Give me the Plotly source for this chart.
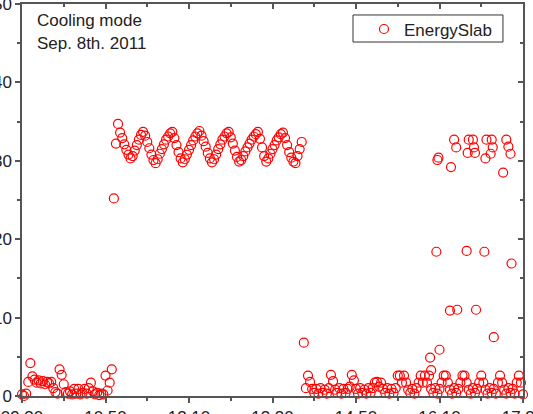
import pandas as pd
import plotly.graph_objects as go

DAY = "2011-09-08"
STEP_MIN = 2  # logger interval (minutes)

# Morning idle period, samples every 2 min from 09:30
morning_start = "09:30"
morning_vals = [0.2, 0.0, 0.3, 1.8, 4.2, 2.5, 2.1, 1.7, 2.0, 1.6,
                1.9, 1.5, 1.8, 1.6, 1.8, 1.0, 0.5, 0.3, 3.4, 2.7,
                1.5, 0.5, 0.3, 0.6, 0.2, 0.9, 0.3, 0.9, 0.2, 0.4,
                0.9, 0.3, 1.0, 1.7, 0.6, 0.2, 0.4, 0.1, 0.3, 0.2,
                2.6, 0.7, 1.7, 3.4]

# Cooling period, samples every 2 min from 10:58
cooling_start = "10:58"
cooling_vals = [25.2, 32.2, 34.7, 33.6, 32.9, 32.1, 31.4, 30.8, 30.3, 30.6,
                31.3, 32.0, 32.7, 33.3, 33.7, 33.2, 32.4, 31.6, 30.8, 30.1,
                29.7, 30.2, 30.9, 31.5, 32.1, 32.7, 33.1, 33.5, 33.7, 32.9,
                32.0, 31.1, 30.3, 29.8, 30.2, 30.8, 31.4, 32.0, 32.6, 33.1,
                33.5, 33.8, 33.2, 32.5, 31.8, 31.0, 30.3, 29.8, 30.2, 30.8,
                31.5, 32.1, 32.7, 33.1, 33.5, 33.7, 33.0, 32.2, 31.3, 30.5,
                29.9, 30.1, 30.6, 31.2, 31.7, 32.2, 32.7, 33.1, 33.4, 33.7,
                32.8, 31.7, 30.6, 29.9, 30.3, 30.9, 31.5, 32.0, 32.6, 33.0,
                33.4, 33.6, 32.9, 32.0, 31.1, 30.4, 29.9, 29.7, 30.6, 31.5,
                32.4, 6.8]

# Afternoon base signal, samples every 2 min from 14:02
afternoon_start = "14:02"
afternoon_vals = [1.0, 2.6, 1.8, 0.9, 0.4, 0.9, 0.3, 1.0, 0.4, 0.8,
                  0.3, 1.0, 2.7, 1.9, 0.8, 0.4, 1.0, 0.3, 0.9, 0.4,
                  0.9, 1.2, 2.7, 2.0, 0.9, 0.3, 1.0, 0.4, 0.8, 0.3,
                  1.0, 0.4, 1.0, 1.7, 1.8, 1.2, 1.7, 0.9, 0.4, 1.0,
                  0.3, 0.9, 0.4, 1.0, 2.6, 2.6, 1.7, 2.6, 1.7, 0.8,
                  0.4, 0.9, 0.3, 1.0, 1.7, 2.6, 1.7, 2.6, 1.7, 2.6,
                  0.9, 0.4, 1.0, 0.3, 0.9, 1.7, 2.6, 2.6, 1.7, 0.8,
                  0.3, 1.0, 0.4, 0.9, 1.7, 2.6, 2.6, 1.7, 0.8, 0.3,
                  1.0, 0.4, 0.9, 1.7, 2.6, 1.7, 0.8, 0.3, 1.0, 0.4,
                  0.9, 0.3, 1.7, 2.6, 1.7, 0.8, 0.3, 1.0, 0.4, 0.9,
                  0.3, 1.7, 2.6, 1.7, 0.2]

# Intermittent afternoon readings
spike_times = ["16:01", "16:02", "16:07", "16:08", "16:09", "16:10", "16:20",
               "16:21", "16:24", "16:26", "16:27", "16:36", "16:37", "16:38",
               "16:42", "16:43", "16:44", "16:45", "16:53", "16:54", "16:55",
               "16:59", "17:00", "17:01", "17:02", "17:11", "17:14", "17:16",
               "17:18", "17:19"]
spike_vals = [4.9, 3.3, 18.4, 30.1, 30.4, 5.9, 10.9,
              29.2, 32.7, 31.7, 11.0, 18.5, 31.0, 32.7,
              32.7, 31.7, 31.0, 11.0, 18.4, 30.3, 32.7,
              30.9, 32.7, 31.7, 7.5, 28.5, 32.7, 31.8,
              30.9, 16.9]

series_name = "EnergySlab"
title_lines = ["Cooling mode", "Sep. 8th. 2011"]
x_range = ["09:30", "17:30"]


def seg_times(start, n):
    return list(pd.date_range(f"{DAY} {start}", periods=n, freq=f"{STEP_MIN}min"))


xs = (seg_times(morning_start, len(morning_vals))
      + seg_times(cooling_start, len(cooling_vals))
      + seg_times(afternoon_start, len(afternoon_vals))
      + [pd.Timestamp(f"{DAY} {t}") for t in spike_times])
ys = morning_vals + cooling_vals + afternoon_vals + spike_vals

AX = "#555555"
FONT = "Liberation Sans, Arial, sans-serif"
FS = 17

fig = go.Figure()
fig.add_trace(go.Scatter(
    x=xs, y=ys, mode="markers", name=series_name, cliponaxis=False,
    marker=dict(symbol="circle-open", size=9, color="#ff0000",
                line=dict(width=1.2, color="#ff0000")),
))
# empty trace to activate the mirrored top/right axes
fig.add_trace(go.Scatter(x=[], y=[], xaxis="x2", yaxis="y2", showlegend=False,
                         hoverinfo="skip"))

xr = [f"{DAY} {x_range[0]}", f"{DAY} {x_range[1]}"]
dt_major = 80 * 60 * 1000
dt_minor = 40 * 60 * 1000

common_x = dict(type="date", range=xr, tick0=xr[0], dtick=dt_major,
                showline=True, linecolor=AX, linewidth=1.5,
                tickcolor=AX, tickwidth=1.5, showgrid=False, zeroline=False)
common_y = dict(range=[0, 50], tick0=0, dtick=10, showline=True,
                linecolor=AX, linewidth=1.5, tickcolor=AX, tickwidth=1.5,
                showgrid=False, zeroline=False)

fig.update_layout(
    width=533, height=414,
    margin=dict(l=22, r=10, t=4, b=18, autoexpand=False),
    paper_bgcolor="white", plot_bgcolor="white",
    font=dict(family=FONT, size=FS, color="#222222"),
    showlegend=True,
    xaxis=dict(**common_x, ticks="outside", ticklen=5, tickformat="%H:%M",
               tickfont=dict(size=FS), ticklabeloverflow="allow",
               minor=dict(dtick=dt_minor, tick0=xr[0], ticks="outside",
                          ticklen=3, tickcolor=AX, tickwidth=1.5)),
    yaxis=dict(**common_y, ticks="outside", ticklen=5, tickfont=dict(size=FS),
               ticklabeloverflow="allow",
               minor=dict(dtick=5, tick0=0, ticks="outside", ticklen=3,
                          tickcolor=AX, tickwidth=1.5)),
    xaxis2=dict(**common_x, overlaying="x", side="top", anchor="y2",
                ticks="inside", ticklen=5, showticklabels=False,
                minor=dict(dtick=dt_minor, tick0=xr[0], ticks="inside",
                           ticklen=3, tickcolor=AX, tickwidth=1.5)),
    yaxis2=dict(**common_y, overlaying="y", side="right", anchor="x2",
                ticks="inside", ticklen=5, showticklabels=False,
                minor=dict(dtick=5, tick0=0, ticks="inside", ticklen=3,
                           tickcolor=AX, tickwidth=1.5)),
    legend=dict(x=0.6826, xanchor="left", y=0.981, yanchor="top",
                bgcolor="rgba(0,0,0,0)", borderwidth=0,
                font=dict(size=FS)),
)

# legend frame (tighter than Plotly's own box)
fig.add_shape(type="rect", xref="paper", yref="paper",
              x0=0.6607, x1=0.960, y0=0.903, y1=0.972,
              line=dict(color="#333333", width=1), fillcolor="white",
              layer="above")

for i, line in enumerate(title_lines):
    fig.add_annotation(text=line, xref="paper", yref="paper",
                       x=0.026, y=0.958 - i * 0.06, xanchor="left",
                       yanchor="middle", showarrow=False,
                       font=dict(size=FS, color="#222222"))

fig.write_html("out.html")
